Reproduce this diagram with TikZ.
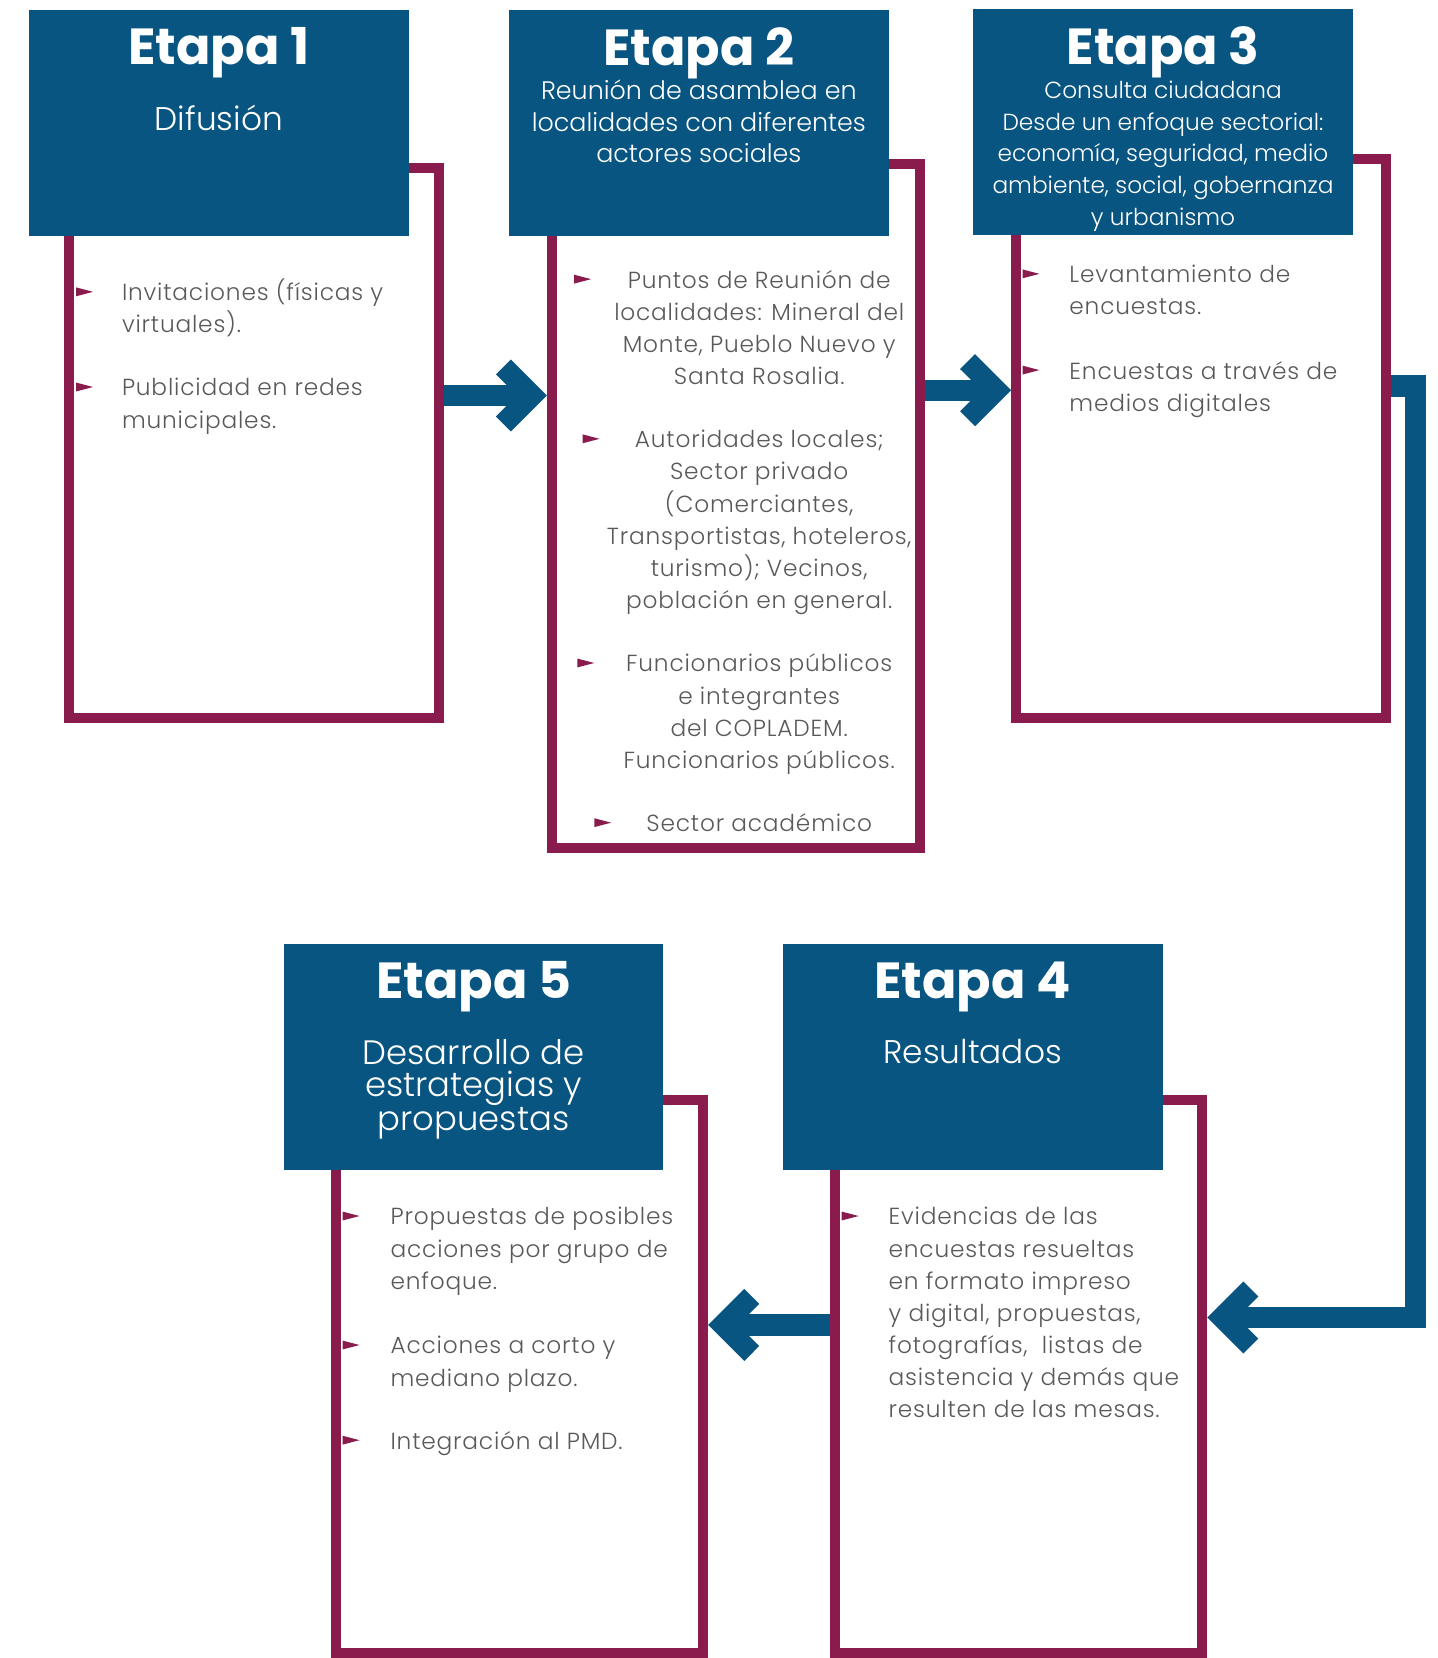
\documentclass[tikz,border=0pt]{standalone}
\usepackage{fontspec}
\setmainfont{Poppins}
\IfFontExistsTF{Poppins Light}{%
	\newfontfamily\bodyfont{Poppins Light}[LetterSpace=3.5]
	\newfontfamily\subfont{Poppins Light}}{%
	\newfontfamily\bodyfont{Poppins}[LetterSpace=3.5]
	\newfontfamily\subfont{Poppins}}
\usetikzlibrary{positioning, decorations.markings}

\definecolor{etablue}{RGB}{9,85,130}
\definecolor{etamaroon}{RGB}{137,28,77}
\definecolor{etagray}{RGB}{89,89,89}

\tikzstyle{head} = [rectangle, fill=etablue, minimum width=179.5pt, minimum height=107pt, anchor=north west, inner sep=0pt]
\tikzstyle{frame} = [rectangle, draw=etamaroon, line width=4.75pt, inner sep=0pt]
\tikzstyle{title} = [text=white, inner sep=0pt, font=\fontsize{24}{28}\selectfont\bfseries]
\tikzstyle{sub} = [text=white, inner sep=0pt, align=center, font=\subfont\fontsize{12}{15}\selectfont]
\tikzstyle{bigsub} = [text=white, inner sep=0pt, align=center, font=\subfont\fontsize{15.5}{15}\selectfont]
\tikzstyle{item} = [text=etagray, inner sep=0pt, align=left, anchor=north west, font=\bodyfont\fontsize{11}{15.2}\selectfont]
\tikzstyle{citem} = [item, align=center, anchor=north]
\tikzstyle{flow} = [draw=etablue, line width=10pt, shorten >=10pt,
	postaction={decorate, decoration={markings, mark=at position 1 with {\draw[etablue, line width=10pt, shorten >=0pt] (-20.6,-13.5) -- (-7.07,0) -- (-20.6,13.5);}}}]

\begin{document}
\begin{tikzpicture}[x=1pt, y=-1pt, node distance=10pt]
		\useasboundingbox (0,0) rectangle (679.5,784);
		% marcos
		\node (frame1) [frame, minimum width=175pt, minimum height=260pt] at (120,209.5) {};
		\node (frame2) [frame, minimum width=174pt, minimum height=323.5pt] at (348,239.25) {};
		\node (frame3) [frame, minimum width=175pt, minimum height=264.5pt] at (568,207.25) {};
		\node (frame4) [frame, minimum width=173.5pt, minimum height=261.5pt] at (481.75,650.75) {};
		\node (frame5) [frame, minimum width=173.5pt, minimum height=261.5pt] at (245.75,650.75) {};
		% encabezados
		\node (head1) [head] at (13.5,4.5) {};
		\node (head2) [head] at (240.5,4.5) {};
		\node (head3) [head] at (460,4) {};
		\node (head4) [head] at (370,446) {};
		\node (head5) [head] at (134,446) {};
		\node (title1) [title, below=8.5pt of head1.north] {Etapa 1};
		\node (sub1) [bigsub, below=45pt of head1.north] {Difusión};
		\node (title2) [title, below=8.5pt of head2.north] {Etapa 2};
		\node (sub2) [sub, below=33pt of head2.north] {Reunión de asamblea en\\localidades con diferentes\\actores sociales};
		\node (title3) [title, below=8.5pt of head3.north] {Etapa 3};
		\node (sub3) [sub, font=\subfont\fontsize{11}{15}\selectfont, below=34pt of head3.north] {Consulta ciudadana\\Desde un enfoque sectorial:\\economía, seguridad, medio\\ambiente, social, gobernanza\\y urbanismo};
		\node (title4) [title, below=8.5pt of head4.north] {Etapa 4};
		\node (sub4) [bigsub, below=45pt of head4.north] {Resultados};
		\node (title5) [title, below=8.5pt of head5.north] {Etapa 5};
		\node (sub5) [bigsub, font=\subfont\fontsize{16}{15}\selectfont, below=45.5pt of head5.north] {Desarrollo de\\estrategias y\\propuestas};
		% flechas
		\coordinate (r1) at (0,187);
		\coordinate (r2) at (0,184.5);
		\coordinate (r3) at (0,182.5);
		\coordinate (turn) at (669.5,623);
		\coordinate (r4) at (0,626.5);
		\draw [flow] (frame1.east |- r1) -- (frame2.west |- r1);
		\draw [flow] (frame2.east |- r2) -- (frame3.west |- r2);
		\draw [flow] (frame3.east |- r3) -| (turn) -- (frame4.east |- turn);
		\draw [flow] (frame4.west |- r4) -- (frame5.east |- r4);
		% contenido
		\node (i11) [item] at (57.5,131.4) {\strut Invitaciones (físicas y\\virtuales).};
		\node (i12) [item] at (57.5,176.4) {\strut Publicidad en redes\\municipales.};
		\node (i21) [citem] at (359,125.4) {\strut Puntos de Reunión de\\localidades: Mineral del\\Monte, Pueblo Nuevo y\\Santa Rosalia.};
		\node (i22) [citem] at (359,200.9) {\strut Autoridades locales;\\Sector privado\\(Comerciantes,\\Transportistas, hoteleros,\\turismo); Vecinos,\\población en general.};
		\node (i23) [citem] at (359,306.9) {\strut Funcionarios públicos\\e integrantes\\del COPLADEM.\\Funcionarios públicos.};
		\node (i24) [citem] at (359,382.4) {\strut Sector académico};
		\node (i31) [item] at (505.5,122.9) {\strut Levantamiento de\\encuestas.};
		\node (i32) [item] at (505.5,168.4) {\strut Encuestas a través de\\medios digitales};
		\node (i41) [item] at (420,568.4) {\strut Evidencias de las\\encuestas resueltas\\en formato impreso\\y digital, propuestas,\\fotografías,\ \ listas de\\asistencia y demás que\\resulten de las mesas.};
		\node (i51) [item] at (184.5,568.4) {\strut Propuestas de posibles\\acciones por grupo de\\enfoque.};
		\node (i52) [item] at (184.5,629.4) {\strut Acciones a corto y\\mediano plazo.};
		\node (i53) [item] at (184.5,674.4) {\strut Integración al PMD.};
		\foreach \bx/\by in {36/138, 36/183, 271.5/132, 275.5/207.5, 273/313.5, 281/389, 483.5/129.5, 483.5/175, 398/575, 162/575, 162/636, 162/681}
			\fill [etamaroon] (\bx,\by-2.1) -- (\bx+8,\by) -- (\bx,\by+2.1) -- cycle;
\end{tikzpicture}
\end{document}
